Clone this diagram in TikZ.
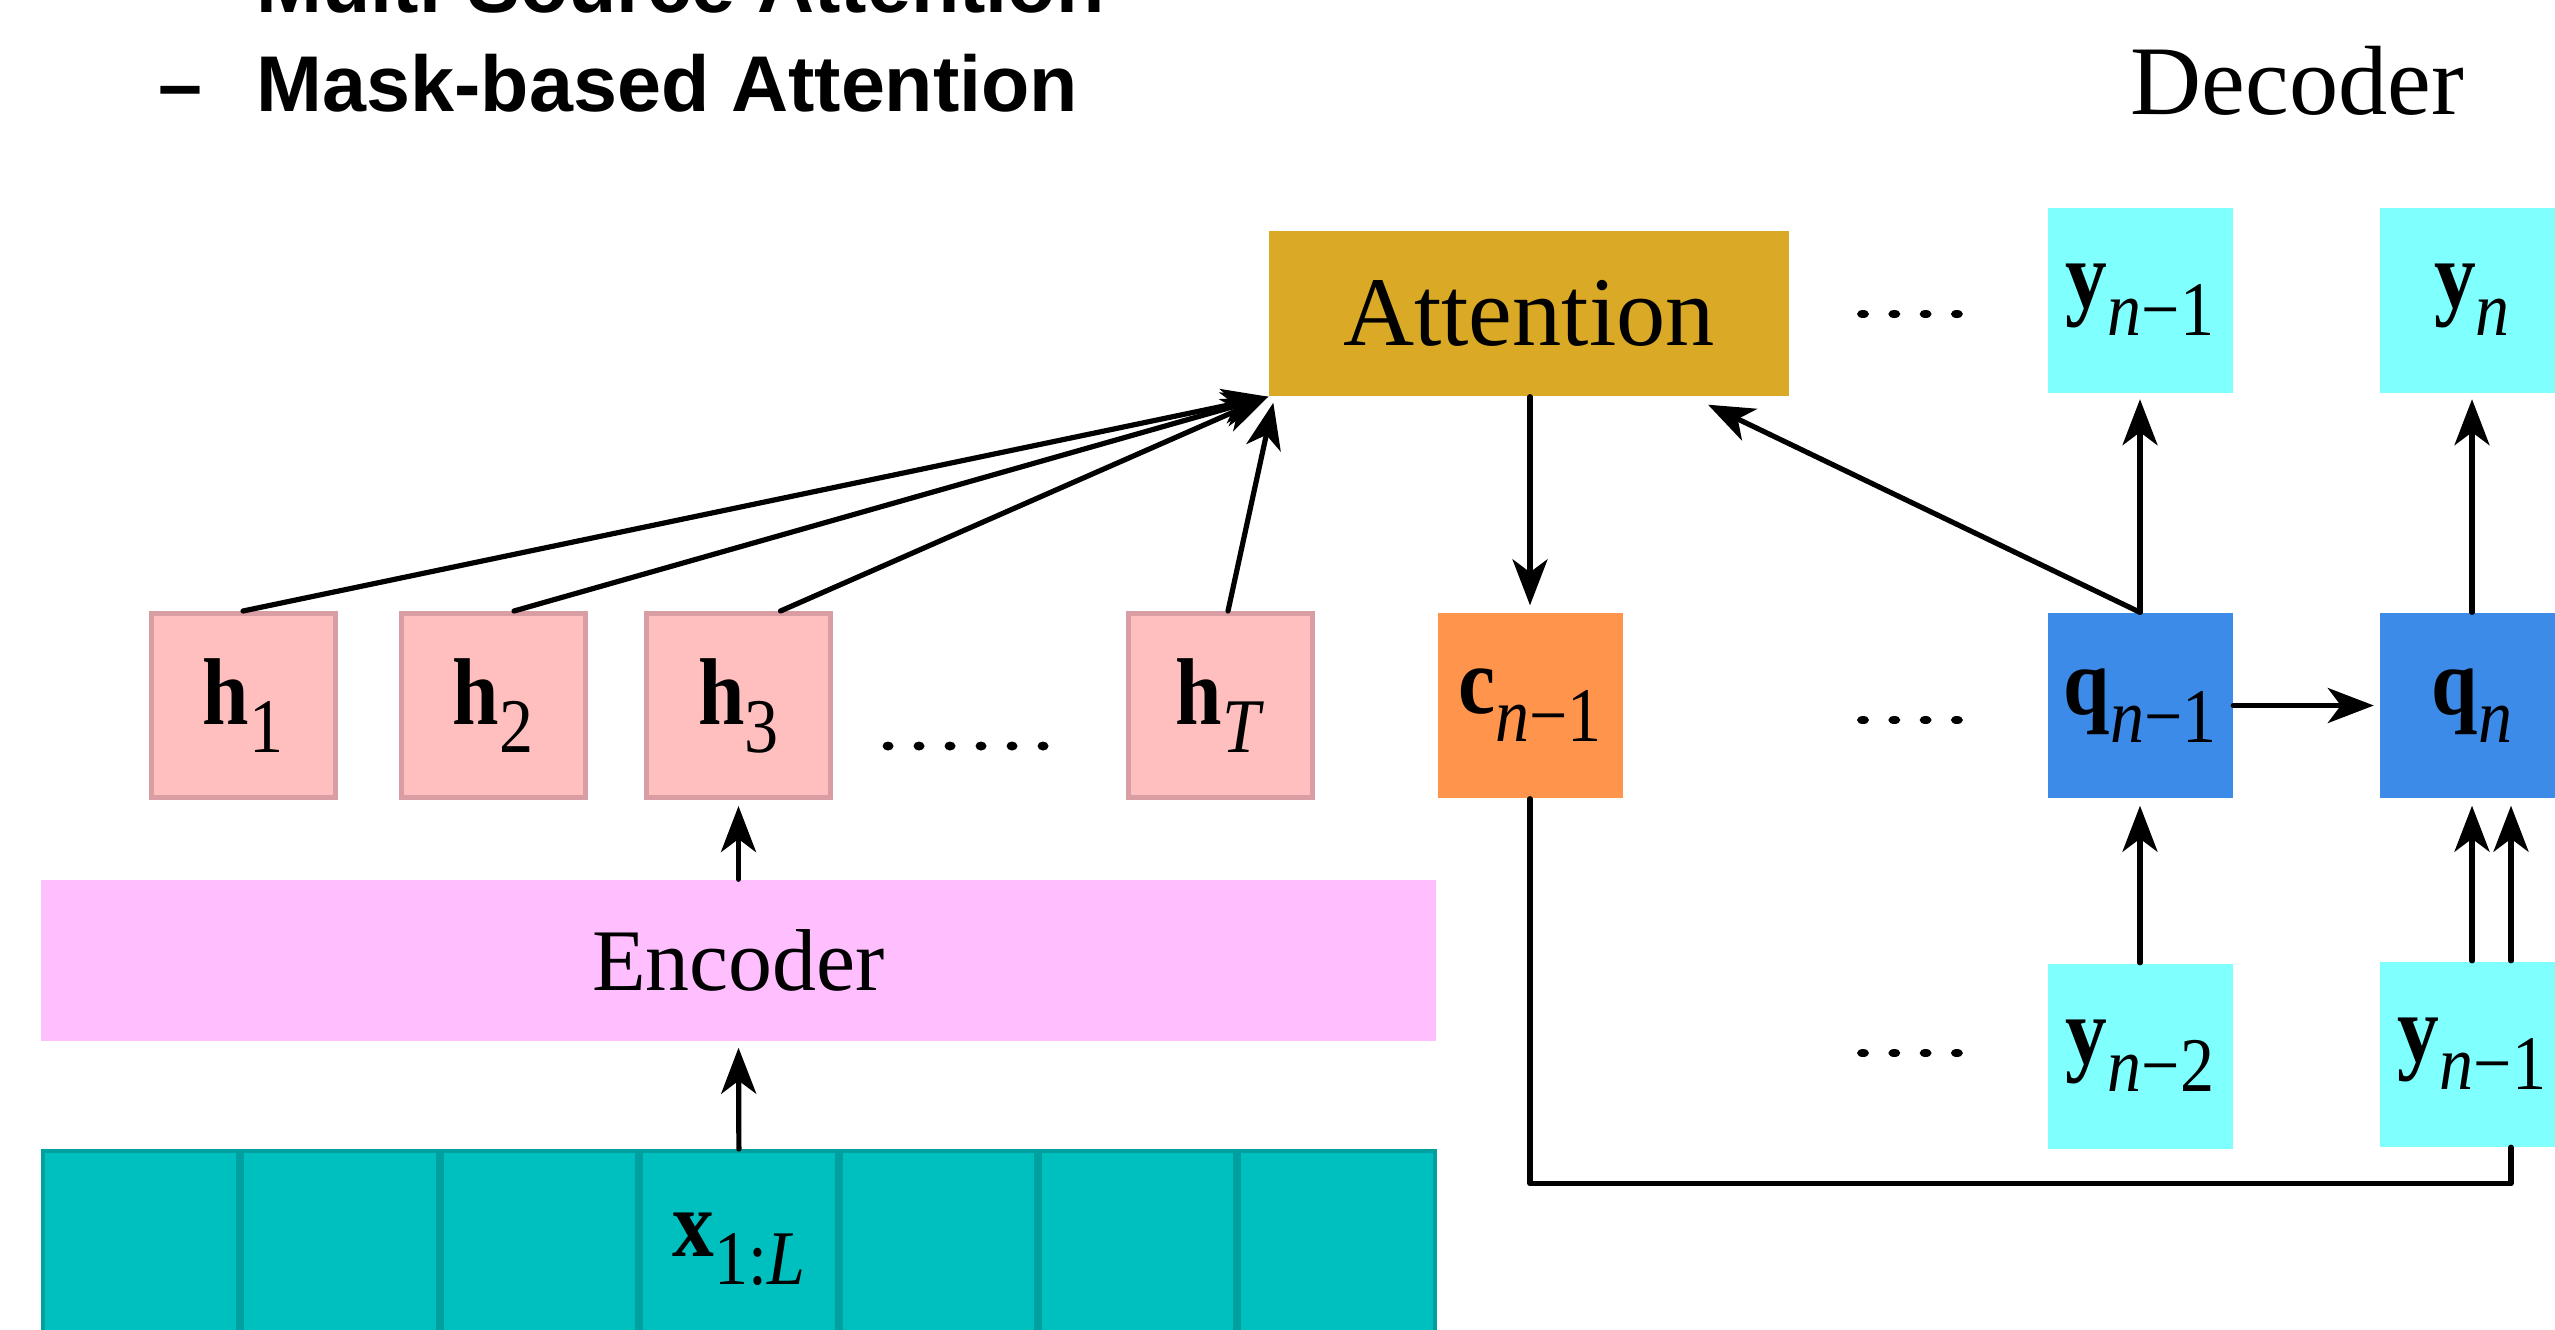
\documentclass[tikz,border=0pt]{standalone}
\usepackage{fontspec}
\setmainfont{Liberation Serif}
\newfontfamily\headfont{Liberation Sans}
\usetikzlibrary{arrows.meta}

\definecolor{attcol}{RGB}{218,170,38}
\definecolor{ycol}{RGB}{128,255,255}
\definecolor{qcol}{RGB}{61,139,232}
\definecolor{ccol}{RGB}{255,148,77}
\definecolor{hcol}{RGB}{255,191,191}
\definecolor{hline}{RGB}{216,158,164}
\definecolor{enccol}{RGB}{255,191,255}
\definecolor{xcol}{RGB}{0,191,191}
\definecolor{xline}{RGB}{0,160,160}

\newcommand{\vsym}[2]{\scalebox{0.88}[1]{\textbf{#1}\raisebox{-8pt}{\fontsize{22}{22}\selectfont #2}}}

\tikzset{
  box/.style={minimum width=18.5mm,minimum height=18.5mm,inner sep=0pt,
    font=\fontsize{27}{27}\selectfont},
  ybox/.style={box,fill=ycol},
  qbox/.style={box,fill=qcol},
  hbox/.style={box,fill=hcol,draw=hline,line width=0.5mm,
    minimum width=18.4mm,minimum height=18.4mm},
  xcell/.style={fill=xcol,draw=xline,line width=0.4mm,inner sep=0pt,
    minimum width=19.54mm,minimum height=19.6mm,font=\fontsize{27}{27}\selectfont},
  conn/.style={line width=0.52mm,line cap=round,
    -{Stealth[length=4.6mm,width=3.5mm,inset=1.3mm]}}
}

\begin{document}
\begin{tikzpicture}[x=0.1mm,y=-0.1mm]
\useasboundingbox (0,0) rectangle (2555,1329);

% header
\node[anchor=base west,inner sep=0pt,font=\headfont\bfseries\fontsize{22.5}{22.5}\selectfont] (t1) at (256,12) {Multi-Source Attention};
\node[anchor=base west,inner sep=0pt,font=\headfont\bfseries\fontsize{22.5}{22.5}\selectfont] (dash) at (158,111) {–};
\node[anchor=base west,inner sep=0pt,font=\headfont\bfseries\fontsize{22.5}{22.5}\selectfont] (t2) at (256,111) {Mask-based Attention};
\node[anchor=base west,inner sep=0pt,font=\fontsize{28}{28}\selectfont] (dec) at (2130,114) {Decoder};

% encoder side
\foreach \i in {0,...,6}
  \node[xcell] (x\i) at (140.7+199.4*\i,1249) {};
\node[font=\fontsize{27}{27}\selectfont] (xl) at (x3) {\vsym{x}{1:\textit{L}}};
\node[fill=enccol,minimum width=139.5mm,minimum height=16.1mm,font=\fontsize{25}{25}\selectfont] (enc) at (738.5,960.5) {Encoder};

\node[hbox] (h1) at (243,705.5) {\vsym{h}{1}};
\node[hbox] (h2) at (493,705.5) {\vsym{h}{2}};
\node[hbox] (h3) at (738.5,705.5) {\vsym{h}{3}};
\node[hbox] (hT) at (1220,705.5) {\vsym{h}{\textit{T}}};
\foreach \i in {0,...,5}
  \fill (888+31*\i,746) ellipse [x radius=0.55mm,y radius=0.45mm];

\node[fill=attcol,minimum width=52mm,minimum height=16.5mm,font=\fontsize{28}{28}\selectfont] (att) at (1529,313.5) {Attention};
\node[box,fill=ccol] (cn) at (1530,705.5) {\vsym{c}{\textit{n}−1}};

% decoder side
\node[ybox] (ya) at (2140,300) {\vsym{y}{\textit{n}−1}};
\node[ybox] (yn) at (2472,300) {\vsym{y}{\textit{n}}};
\node[qbox] (qa) at (2140,705.5) {\vsym{q}{\textit{n}−1}};
\node[qbox] (qn) at (2472,705.5) {\vsym{q}{\textit{n}}};
\node[ybox] (yc) at (2140,1056) {\vsym{y}{\textit{n}−2}};
\node[ybox] (yb) at (2472,1054) {\vsym{y}{\textit{n}−1}};

\foreach \y in {314,720,1053}
  \foreach \i in {0,...,3}
    \fill (1863+31.3*\i,\y) ellipse [x radius=0.6mm,y radius=0.4mm];

\draw[conn,shorten >=0.6mm] (x3.north) -- (enc.south);
\draw[conn,shorten >=0.6mm] (enc.north) -- (h3.south);
\draw[conn] (h1.north) -- (att.south west);
\draw[conn] ([xshift=2.1mm]h2.north) -- (att.south west);
\draw[conn] ([xshift=4.2mm]h3.north) -- (att.south west);
\draw[conn] ([xshift=0.8mm]hT.north) -- ([xshift=0.5mm,yshift=-0.6mm]att.south west);
\draw[conn,shorten >=0.7mm] (att.south -| cn.north) -- (cn.north);
\draw[conn] (qa.north) -- ([xshift=17.9mm,yshift=-0.8mm]att.south);
\draw[conn,shorten >=0.6mm] (qa.north) -- (ya.south);
\draw[conn,shorten >=0.6mm] (qn.north) -- (yn.south);
\draw[conn,shorten >=0.5mm] (qa.east) -- (qn.west);
\draw[conn,shorten >=0.7mm] (yc.north) -- (qa.south);
\draw[conn,shorten >=0.7mm] (yb.north) -- (qn.south);
\draw[conn,shorten >=0.7mm] ([xshift=3.9mm]yb.north) -- ([xshift=3.9mm]qn.south);
\draw[line width=0.52mm,line cap=round,line join=round] (cn.south) -- ++(0,385) -| ([xshift=3.9mm]yb.south);
\end{tikzpicture}
\end{document}
